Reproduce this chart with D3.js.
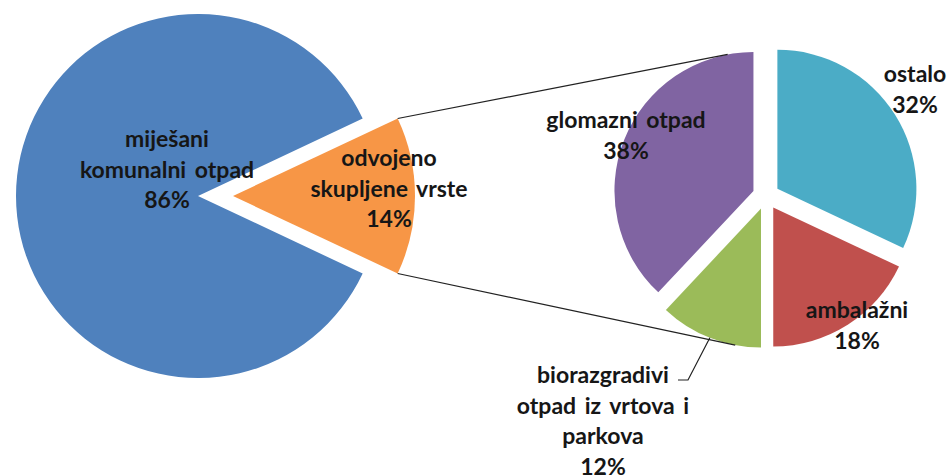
<!DOCTYPE html>
<html>
<head>
<meta charset="utf-8">
<script src="https://cdn.jsdelivr.net/npm/d3@7"></script>
<style>
  body { margin: 0; background: #fff; }
  text { font-family: Lato, "Open Sans", sans-serif; font-weight: 700; font-size: 23px; word-spacing: 3px; fill: #161616; }
</style>
</head>
<body>
<svg id="chart" width="951" height="475"></svg>
<script>
// main pie
const mainLabels = [["miješani", "komunalni otpad"], ["odvojeno", "skupljene vrste"]];
const mainValues = [86, 14];
const mainColors = ["#4f81bd", "#f79646"];

// breakdown of "odvojeno skupljene vrste"
const subLabels = [["ostalo"], ["ambalažni"], ["biorazgradivi", "otpad iz vrtova i", "parkova"], ["glomazni otpad"]];
const subValues = [32, 18, 12, 38];
const subColors = ["#4bacc6", "#c0504d", "#9bbb59", "#8064a2"];

const svg = d3.select("#chart");
const rad = deg => deg * Math.PI / 180;

// layout
const main = { cx: 198, cy: 196, r: 182, explode: [0, 35] };
const sub = { cx: 766, cy: 196, r: 139, explode: 13.5 };
const mainLabelPos = [[167, 147], [389, 166]];
const subLabelPos = [[915, 82], [857, 318], [603, 383], [626, 128]];
const lineH = 30.5;

// orange slice centred on 3 o'clock
const mainStart = Math.PI / 2 + Math.PI * mainValues[1] / 100;
const mainPie = d3.pie().sort(null).startAngle(mainStart).endAngle(mainStart + 2 * Math.PI);
const subPie = d3.pie().sort(null);

const mainArcs = mainPie(mainValues);
const subArcs = subPie(subValues);

const mainArc = d3.arc().innerRadius(0).outerRadius(main.r);
const subArc = d3.arc().innerRadius(0).outerRadius(sub.r);

// offset of a slice pushed out along its middle angle
function shift(d, dist) {
  return d3.pointRadial((d.startAngle + d.endAngle) / 2, dist);
}

const gMain = svg.append("g").attr("transform", "translate(" + main.cx + "," + main.cy + ")");
gMain.selectAll("path")
  .data(mainArcs)
  .enter()
  .append("path")
  .attr("transform", (d, i) => "translate(" + shift(d, main.explode[i]) + ")")
  .attr("d", mainArc)
  .attr("fill", (d, i) => mainColors[i]);

const gSub = svg.append("g").attr("transform", "translate(" + sub.cx + "," + sub.cy + ")");
gSub.selectAll("path")
  .data(subArcs)
  .enter()
  .append("path")
  .attr("transform", d => "translate(" + shift(d, sub.explode) + ")")
  .attr("d", subArc)
  .attr("fill", (d, i) => subColors[i]);

// connector lines between the orange slice and the second pie
const orange = mainArcs[1];
const oOff = shift(orange, main.explode[1]);
function mainPoint(angle) {
  const p = d3.pointRadial(angle, main.r);
  return [main.cx + oOff[0] + p[0], main.cy + oOff[1] + p[1]];
}
function subPoint(i, angle) {
  const off = shift(subArcs[i], sub.explode);
  const p = d3.pointRadial(angle, sub.r);
  return [sub.cx + off[0] + p[0], sub.cy + off[1] + p[1]];
}
const connectors = [
  [mainPoint(orange.startAngle), subPoint(3, rad(-10.7))],
  [mainPoint(orange.endAngle), subPoint(2, rad(190.7))]
];
svg.selectAll("line.conn")
  .data(connectors)
  .enter()
  .append("line")
  .attr("class", "conn")
  .attr("x1", d => d[0][0]).attr("y1", d => d[0][1])
  .attr("x2", d => d[1][0]).attr("y2", d => d[1][1])
  .attr("stroke", "#222")
  .attr("stroke-width", 1.2);

// leader line for the small green slice
const green = subArcs[2];
const leader = [subPoint(2, (green.startAngle + green.endAngle) / 2), [688, 380], [678, 380]];
svg.append("path")
  .attr("d", d3.line()(leader))
  .attr("fill", "none")
  .attr("stroke", "#222")
  .attr("stroke-width", 1.2);

// labels
function drawLabel(lines, value, pos) {
  const all = lines.concat([value + "%"]);
  const t = svg.append("text").attr("text-anchor", "middle");
  all.forEach((s, k) => {
    t.append("tspan").attr("x", pos[0]).attr("y", pos[1] + k * lineH).text(s);
  });
}
mainValues.forEach((v, i) => drawLabel(mainLabels[i], v, mainLabelPos[i]));
subValues.forEach((v, i) => drawLabel(subLabels[i], v, subLabelPos[i]));
</script>
</body>
</html>
